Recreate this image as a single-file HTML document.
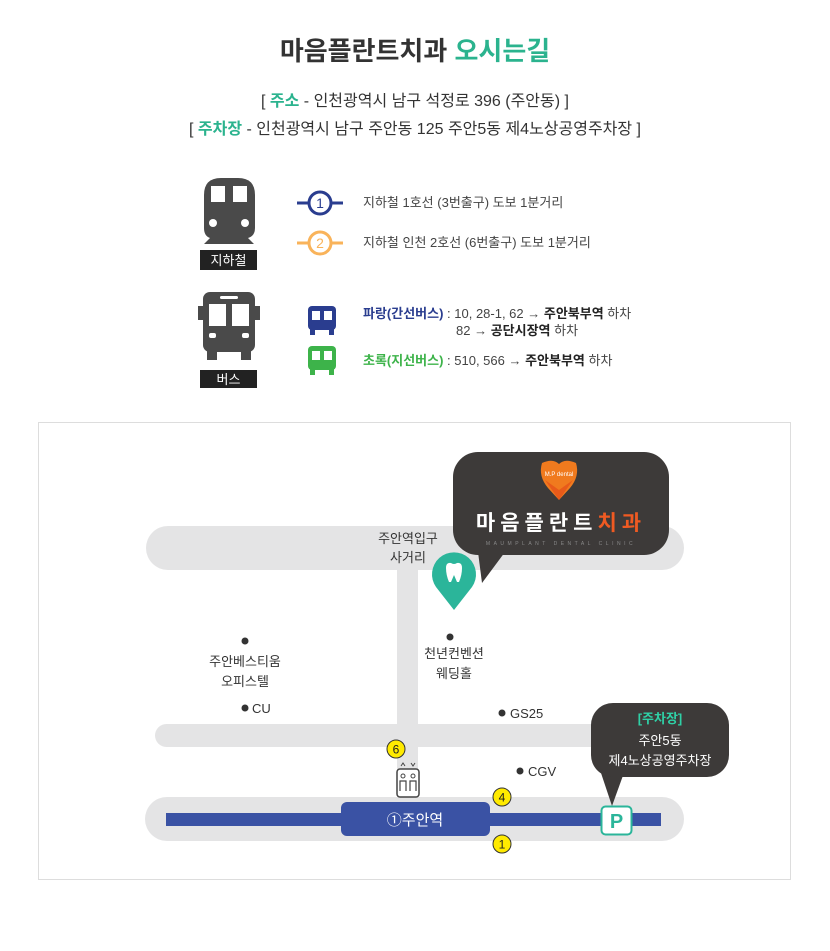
<!DOCTYPE html>
<html><head><meta charset="utf-8"><style>
html,body{margin:0;padding:0;background:#fff;}
body{width:830px;height:946px;overflow:hidden;font-family:"Liberation Sans","Noto Sans CJK KR",sans-serif;}
</style></head><body>
<svg width="830" height="946" viewBox="0 0 830 946" xmlns="http://www.w3.org/2000/svg" font-family="Liberation Sans, Noto Sans CJK KR, sans-serif">
<!-- header -->
<text x="415" y="60" text-anchor="middle" font-size="26" font-weight="bold" fill="#333">마음플란트치과 <tspan fill="#2bb38e">오시는길</tspan></text>
<text x="415" y="106" text-anchor="middle" font-size="16" fill="#333">[ <tspan fill="#2bb38e" font-weight="bold">주소</tspan> - 인천광역시 남구 석정로 396 (주안동) ]</text>
<text x="415" y="134" text-anchor="middle" font-size="16" fill="#333">[ <tspan fill="#2bb38e" font-weight="bold">주차장</tspan> - 인천광역시 남구 주안동 125  주안5동 제4노상공영주차장 ]</text>

<!-- subway icon -->
<g fill="#4a4a4a">
<path d="M204 195 Q204 178 221 178 L238 178 Q255 178 255 195 L255 228 Q255 236 248 238 L254 244 L204 244 L210 238 Q204 236 204 228 Z"/>
</g>
<rect x="211" y="186" width="14" height="16" fill="#fff"/><rect x="233" y="186" width="14" height="16" fill="#fff"/>
<circle cx="213" cy="223" r="4" fill="#fff"/><circle cx="245" cy="223" r="4" fill="#fff"/>
<rect x="200" y="250" width="57" height="20" fill="#222"/>
<text x="228.5" y="265" text-anchor="middle" font-size="13" fill="#fff">지하철</text>

<line x1="297" y1="203" x2="343" y2="203" stroke="#2a3d8f" stroke-width="3"/>
<circle cx="320" cy="203" r="11" fill="#fff" stroke="#2a3d8f" stroke-width="3"/>
<text x="320" y="208" text-anchor="middle" font-size="14" fill="#2a3d8f">1</text>
<line x1="297" y1="243" x2="343" y2="243" stroke="#f9b35a" stroke-width="3"/>
<circle cx="320" cy="243" r="11" fill="#fff" stroke="#f9b35a" stroke-width="3"/>
<text x="320" y="248" text-anchor="middle" font-size="14" fill="#f9b35a">2</text>
<text x="363" y="207" font-size="13" fill="#444">지하철 1호선 (3번출구) 도보 1분거리</text>
<text x="363" y="247" font-size="13" fill="#444">지하철 인천 2호선 (6번출구) 도보 1분거리</text>

<!-- bus icon -->
<rect x="203" y="292" width="52" height="60" rx="7" fill="#4a4a4a"/>
<rect x="198" y="306" width="5" height="14" fill="#4a4a4a"/><rect x="255" y="306" width="5" height="14" fill="#4a4a4a"/>
<rect x="207" y="350" width="10" height="10" fill="#4a4a4a"/><rect x="241" y="350" width="10" height="10" fill="#4a4a4a"/>
<rect x="220" y="296" width="18" height="3" rx="1.5" fill="#fff"/>
<rect x="209" y="304" width="17" height="22" fill="#fff"/><rect x="232" y="304" width="17" height="22" fill="#fff"/>
<rect x="209" y="333" width="7" height="5" rx="2" fill="#fff"/><rect x="242" y="333" width="7" height="5" rx="2" fill="#fff"/>
<rect x="200" y="370" width="57" height="18" fill="#222"/>
<text x="228.5" y="384" text-anchor="middle" font-size="13" fill="#fff">버스</text>

<g fill="#2a3d8f">
<rect x="308" y="306" width="28" height="24" rx="4"/><rect x="310" y="329" width="5" height="6"/><rect x="329" y="329" width="5" height="6"/>
</g>
<rect x="312" y="311" width="8" height="9" fill="#fff"/><rect x="324" y="311" width="8" height="9" fill="#fff"/>
<g fill="#3db34a">
<rect x="308" y="346" width="28" height="24" rx="4"/><rect x="310" y="369" width="5" height="6"/><rect x="329" y="369" width="5" height="6"/>
</g>
<rect x="312" y="351" width="8" height="9" fill="#fff"/><rect x="324" y="351" width="8" height="9" fill="#fff"/>

<text x="363" y="318" font-size="13" fill="#444"><tspan fill="#2a3d8f" font-weight="bold">파랑(간선버스)</tspan> : 10, 28-1, 62 → <tspan font-weight="bold" fill="#222">주안북부역</tspan> 하차</text>
<text x="456" y="335" font-size="13" fill="#444">82 → <tspan font-weight="bold" fill="#222">공단시장역</tspan> 하차</text>
<text x="363" y="365" font-size="13" fill="#444"><tspan fill="#3db34a" font-weight="bold">초록(지선버스)</tspan> : 510, 566 → <tspan font-weight="bold" fill="#222">주안북부역</tspan> 하차</text>

<!-- map -->
<rect x="38.5" y="422.5" width="752" height="457" fill="#fff" stroke="#ddd"/>
<rect x="146" y="526" width="538" height="44" rx="22" fill="#e4e4e5"/>
<rect x="397" y="560" width="21" height="240" fill="#e4e4e5"/>
<rect x="155" y="724" width="460" height="23" rx="11.5" fill="#e4e4e5"/>
<rect x="145" y="797" width="539" height="44" rx="22" fill="#e4e4e5"/>
<rect x="166" y="813" width="495" height="13" fill="#3a52a4"/>
<rect x="341" y="802" width="149" height="34" rx="6" fill="#3a52a4"/>
<text x="415" y="825" text-anchor="middle" font-size="15" fill="#fff">①주안역</text>

<text x="408" y="543" text-anchor="middle" font-size="13" fill="#333">주안역입구</text>
<text x="408" y="562" text-anchor="middle" font-size="13" fill="#333">사거리</text>

<!-- pin -->
<path d="M454 610 L436 587 A22 22 0 1 1 472 587 Z" fill="#2bb59a"/>
<path d="M446 568 Q446 562 451 563 Q454 565 457 563 Q462 562 462 568 Q462 575 459 582 L457 582 L454 575 L451 582 L449 582 Q446 575 446 568 Z" fill="#fff"/>

<!-- clinic bubble -->
<path d="M478 552 L482 583 L505 552 Z" fill="#3d3a39"/>
<rect x="453" y="452" width="216" height="103" rx="25" fill="#3d3a39"/>
<path d="M542 463 Q553 458 559 464 Q565 458 576 463 Q580 476 570 488 L559 500 L548 488 Q538 476 542 463 Z" fill="#f07a1e"/>
<path d="M545 480 L559 500 L573 480 L559 490 Z" fill="#e85a1a"/>
<text x="559" y="476" text-anchor="middle" font-size="6" fill="#fff">M.P dental</text>
<text x="561" y="530" text-anchor="middle" font-size="21" font-weight="bold" fill="#fff" letter-spacing="5">마음플란트<tspan fill="#f05a22">치과</tspan></text>
<text x="561" y="545" text-anchor="middle" font-size="5" fill="#888" letter-spacing="3.5">MAUMPLANT DENTAL CLINIC</text>

<!-- labels -->
<circle cx="245" cy="641" r="3.5" fill="#333"/>
<text x="245" y="666" text-anchor="middle" font-size="13" fill="#333">주안베스티움</text>
<text x="245" y="686" text-anchor="middle" font-size="13" fill="#333">오피스텔</text>
<circle cx="245" cy="708" r="3.5" fill="#333"/>
<text x="252" y="713" font-size="13" fill="#333">CU</text>
<circle cx="450" cy="637" r="3.5" fill="#333"/>
<text x="454" y="658" text-anchor="middle" font-size="13" fill="#333">천년컨벤션</text>
<text x="454" y="678" text-anchor="middle" font-size="13" fill="#333">웨딩홀</text>
<circle cx="502" cy="713" r="3.5" fill="#333"/>
<text x="510" y="718" font-size="13" fill="#333">GS25</text>
<circle cx="520" cy="771" r="3.5" fill="#333"/>
<text x="528" y="776" font-size="13" fill="#333">CGV</text>

<g font-size="12" text-anchor="middle" fill="#222">
<circle cx="396" cy="749" r="9" fill="#ffea00" stroke="#333"/><text x="396" y="753.5">6</text>
<circle cx="502" cy="797" r="9" fill="#ffea00" stroke="#333"/><text x="502" y="801.5">4</text>
<circle cx="502" cy="844" r="9" fill="#ffea00" stroke="#333"/><text x="502" y="848.5">1</text>
</g>
<!-- elevator -->
<rect x="397" y="769" width="22" height="28" rx="3" fill="#fff" stroke="#444" stroke-width="1.5"/>
<circle cx="403" cy="776" r="2" fill="none" stroke="#444"/><circle cx="413" cy="776" r="2" fill="none" stroke="#444"/>
<path d="M400 791 L400 781 L406 781 L406 791 M410 791 L410 781 L416 781 L416 791" fill="none" stroke="#444" stroke-width="1.2"/>
<path d="M401 766 L403 763 L405 766 M411 763 L413 766 L415 763" fill="none" stroke="#444"/>

<!-- parking bubble -->
<path d="M600 770 L612 806 L625 770 Z" fill="#3d3a39"/>
<rect x="591" y="703" width="138" height="74" rx="22" fill="#3d3a39"/>
<text x="660" y="723" text-anchor="middle" font-size="13" font-weight="bold" fill="#2fd0a6">[주차장]</text>
<text x="660" y="745" text-anchor="middle" font-size="13" fill="#fff">주안5동</text>
<text x="660" y="765" text-anchor="middle" font-size="13" fill="#fff">제4노상공영주차장</text>
<rect x="601.5" y="806.5" width="30" height="28" rx="4" fill="#fff" stroke="#2bb59a" stroke-width="2"/>
<text x="616.5" y="828" text-anchor="middle" font-size="20" font-weight="bold" fill="#2bb59a">P</text>
</svg>
</body></html>
